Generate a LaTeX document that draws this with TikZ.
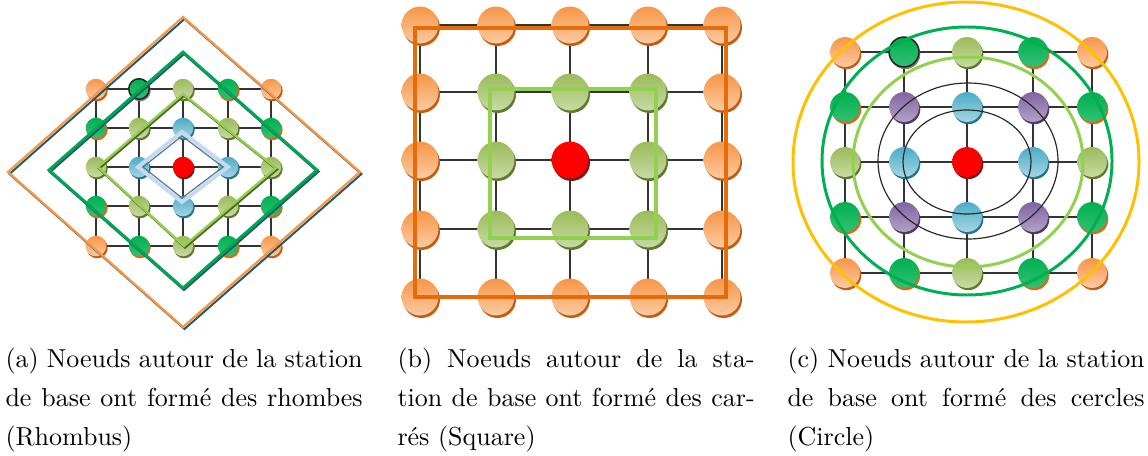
\documentclass[tikz,border=0pt]{standalone}
\usepackage{fontspec}
\usetikzlibrary{backgrounds}
\definecolor{cO}{HTML}{F79646}\definecolor{sO}{HTML}{C55A11}
\definecolor{cD}{HTML}{00B050}\definecolor{sD}{HTML}{D86A1A}
\definecolor{cK}{HTML}{00B050}\definecolor{sK}{HTML}{7F7F7F}
\definecolor{cL}{HTML}{9BBB59}\definecolor{sL}{HTML}{5E7A2A}
\definecolor{cB}{HTML}{4BACC6}\definecolor{sB}{HTML}{2A7489}
\definecolor{cR}{HTML}{FF0000}\definecolor{sR}{HTML}{7A1A1A}
\definecolor{cP}{HTML}{8064A2}\definecolor{sP}{HTML}{4E3B66}
\definecolor{rOrange}{HTML}{F79646}
\definecolor{rTeal}{HTML}{215968}
\definecolor{rGreen}{HTML}{00A651}
\definecolor{rLight}{HTML}{92D050}
\definecolor{rLightS}{HTML}{4F6228}
\definecolor{rBlue}{HTML}{C6D9F1}
\definecolor{sqOrange}{HTML}{E46C0A}
\definecolor{cGold}{HTML}{FFC000}
\tikzset{
  ball/.style={circle, inner sep=0pt, minimum size=#1},
  fO/.style={top color=cO, bottom color=cO!50!white},
  fD/.style={top color=cD, bottom color=cD!80!white},
  fK/.style={top color=cD, bottom color=cD!80!white, draw=black!85, line width=0.6pt},
  fL/.style={top color=cL, bottom color=cL!55!white},
  fB/.style={top color=cB, bottom color=cB!50!white},
  fR/.style={top color=cR, bottom color=cR},
  fP/.style={top color=cP, bottom color=cP!60!white},
  gridline/.style={draw=black!80, line width=0.5pt},
  captext/.style={anchor=north west, inner sep=0pt, text width=137.5pt, align=justify,
              font=\fontsize{10}{15}\selectfont},
}
\begin{document}
\begin{tikzpicture}[x=0.385pt, y=-0.385pt]
\useasboundingbox (0,0) rectangle (1148,456);

% ---------------- (a) rhombus -----------------
\foreach \k [count=\n from 0] in {O,K,L,D,O, D,L,B,L,D, L,B,R,B,L, D,L,B,L,D, O,D,L,D,O} {
  \pgfmathtruncatemacro\cc{mod(\n,5)}
  \pgfmathtruncatemacro\rr{div(\n,5)}
  \pgfmathsetmacro\xx{{96,139,183,228,271}[\cc]}
  \pgfmathsetmacro\yy{{89,128,167,206,246}[\rr]}
  \fill[s\k] (\xx+1.2,\yy+1.8) circle[radius=10.5];
  \node[ball=7.9pt, f\k] (a\n) at (\xx,\yy) {};
}
% ---------------- (b) square -----------------
\foreach \k [count=\n from 0] in {O,O,O,O,O, O,L,L,L,O, O,L,R,L,O, O,L,L,L,O, O,O,O,O,O} {
  \pgfmathtruncatemacro\cc{mod(\n,5)}
  \pgfmathtruncatemacro\rr{div(\n,5)}
  \pgfmathsetmacro\xx{{420,496,570,648,722}[\cc]}
  \pgfmathsetmacro\yy{{25,92,160,229,297}[\rr]}
  \fill[s\k] (\xx+1.5,\yy+2.5) circle[radius=18.5];
  \node[ball=14.2pt, f\k] (b\n) at (\xx,\yy) {};
}
% ---------------- (c) circle -----------------
\foreach \k [count=\n from 0] in {O,K,L,D,O, D,P,B,P,D, L,B,R,B,L, D,P,B,P,D, O,D,L,D,O} {
  \pgfmathtruncatemacro\cc{mod(\n,5)}
  \pgfmathtruncatemacro\rr{div(\n,5)}
  \pgfmathsetmacro\xx{{845,904,967,1033,1092}[\cc]}
  \pgfmathsetmacro\yy{{52,107,162,217,273}[\rr]}
  \fill[s\k] (\xx+1.3,\yy+2.2) circle[radius=15];
  \node[ball=11.5pt, f\k] (c\n) at (\xx,\yy) {};
}

% grid lines behind the balls
\begin{scope}[on background layer]
\foreach \p in {a,b,c} {
  \foreach \r in {0,...,4} {
    \pgfmathtruncatemacro\s{5*\r}
    \pgfmathtruncatemacro\e{5*\r+4}
    \draw[gridline] (\p\s.center) -- (\p\e.center);
    \pgfmathtruncatemacro\t{20+\r}
    \draw[gridline] (\p\r.center) -- (\p\t.center);
  }
}
\end{scope}

% rhombi of (a)
\draw[rTeal, line width=0.75pt, line join=miter] (184.5,19) -- (361.5,174) -- (184.5,329) -- (9.5,174) -- cycle;
\draw[rOrange, line width=0.85pt, line join=miter] (183,17) -- (360,172) -- (183,327) -- (8,172) -- cycle;
\draw[rTeal, line width=1.1pt, line join=miter] (184,53.5) -- (318,171.5) -- (184,289.5) -- (50,171.5) -- cycle;
\draw[rGreen, line width=1.1pt, line join=miter] (183,52) -- (317,170) -- (183,288) -- (49,170) -- cycle;
\draw[rLightS, line width=0.9pt, line join=miter] (184,95.5) -- (277,169.5) -- (185,247.5) -- (99,168.5) -- cycle;
\draw[rLight, line width=0.9pt, line join=miter] (183,94) -- (276,168) -- (184,246) -- (98,167) -- cycle;
\draw[rBlue, line width=1.5pt, line join=miter] (182,132) -- (228,167) -- (182,202) -- (138,167) -- cycle;
\draw[rTeal!80, line width=0.45pt, line join=miter] (182,136) -- (223,167) -- (182,198) -- (143,167) -- cycle;

% squares of (b)
\draw[sqOrange, line width=1.9pt, line join=miter] (415,28) rectangle (726,297);
\draw[rLight, line width=1.5pt, line join=miter] (490,89) rectangle (656,238);

% circles of (c)
\draw[cGold, line width=1.15pt] (966,162) ellipse [x radius=173, y radius=160];
\draw[cD, line width=1.15pt] (967,161) ellipse [x radius=145, y radius=134];
\draw[rLight, line width=1.15pt] (968,162) ellipse [x radius=115, y radius=105];
\draw[black!85, line width=0.45pt] (968,161) ellipse [x radius=90, y radius=78];
\draw[black!85, line width=0.45pt] (967,162) ellipse [x radius=64, y radius=52];

% captions
\node[captext] (capa) at (5,347.5) {(a) Noeuds autour de la station\linebreak de base ont formé des rhombes\linebreak (Rhombus)};
\node[captext] (capb) at (397,347.5) {(b) Noeuds autour de la sta-\linebreak tion de base ont formé des car-\linebreak rés (Square)};
\node[captext] (capc) at (787,347.5) {(c) Noeuds autour de la station\linebreak de base ont formé des cercles\linebreak (Circle)};
\end{tikzpicture}
\end{document}
